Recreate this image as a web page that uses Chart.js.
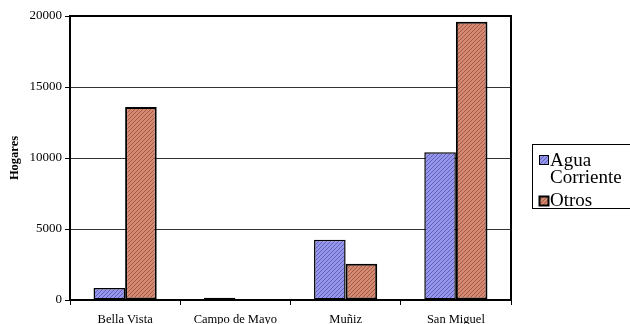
<!DOCTYPE html>
<html>
<head>
<meta charset="utf-8">
<script src="https://cdn.jsdelivr.net/npm/chart.js@4/dist/chart.umd.min.js"></script>
<style>
  html, body { margin: 0; padding: 0; background: #fff; }
  #wrap { width: 630px; height: 324px; overflow: hidden; }
</style>
</head>
<body>
<div id="wrap"><canvas id="c" width="630" height="324"></canvas></div>
<script>
// Hogares por localidad según tipo de abastecimiento de agua
const categories = ['Bella Vista', 'Campo de Mayo', 'Muñiz', 'San Miguel'];
const aguaCorriente = [850, 150, 4250, 10400];
const otros = [13600, 40, 2550, 19600];
const seriesNames = ['Agua Corriente', 'Otros'];
const legendLines = [['Agua', 'Corriente'], ['Otros']];
const yTicks = [0, 5000, 10000, 15000, 20000];

const SERIF = '"Liberation Serif", "Times New Roman", serif';

// Diagonal hatch fill used for the bars
function hatch(base, line) {
  const t = document.createElement('canvas');
  t.width = 4; t.height = 4;
  const g = t.getContext('2d');
  g.fillStyle = base;
  g.fillRect(0, 0, 4, 4);
  g.fillStyle = line;
  for (let i = 0; i < 4; i++) g.fillRect(i, 3 - i, 1, 1);
  return g.createPattern(t, 'repeat');
}
const bluePat = hatch('#9696ec', '#6060b8');
const orangePat = hatch('#d48a72', '#a65a44');

// Top/right frame of the plot area plus the boxed legend
const framePlugin = {
  id: 'frame',
  afterDraw(chart) {
    const { ctx, chartArea: a } = chart;
    ctx.save();
    ctx.strokeStyle = '#000';
    ctx.lineWidth = 2;
    ctx.beginPath();
    ctx.moveTo(a.left, a.top);
    ctx.lineTo(a.right, a.top);
    ctx.lineTo(a.right, a.bottom);
    ctx.stroke();

    // legend box
    ctx.lineWidth = 1;
    ctx.strokeRect(532.5, 144.5, 110, 64);
    const fills = [bluePat, orangePat];
    const rows = [155, 196];
    const baselines = [[166, 183], [206]];
    ctx.font = '19px ' + SERIF;
    legendLines.forEach((lines, i) => {
      ctx.fillStyle = fills[i];
      ctx.fillRect(539, rows[i], 10, 10);
      ctx.strokeStyle = '#000';
      ctx.lineWidth = i === 1 ? 2 : 1;
      ctx.strokeRect(539.5, rows[i] + 0.5, 9, 9);
      ctx.fillStyle = '#000';
      lines.forEach((txt, j) => {
        ctx.fillText(txt, 550, baselines[i][j]);
      });
    });
    ctx.restore();
  }
};

new Chart(document.getElementById('c'), {
  type: 'bar',
  data: {
    labels: categories,
    datasets: [
      { label: seriesNames[0], data: aguaCorriente, backgroundColor: bluePat,
        borderColor: '#000', borderWidth: 1.5, borderSkipped: false },
      { label: seriesNames[1], data: otros, backgroundColor: orangePat,
        borderColor: '#000', borderWidth: 2, borderSkipped: false }
    ]
  },
  options: {
    responsive: false,
    animation: false,
    devicePixelRatio: 1,
    layout: { padding: { top: 16, right: 119, left: 0, bottom: 0 } },
    datasets: { bar: { categoryPercentage: 0.573, barPercentage: 1 } },
    plugins: { legend: { display: false }, tooltip: { enabled: false } },
    scales: {
      x: {
        offset: true,
        grid: { drawOnChartArea: false, drawTicks: true, tickLength: 5, color: '#000', offset: true },
        border: { color: '#000', width: 2 },
        ticks: { color: '#000', font: { family: SERIF, size: 12.5 }, padding: 7, maxRotation: 0 },
        afterFit(s) { s.height = 24; }
      },
      y: {
        min: 0, max: 20000,
        afterBuildTicks(s) { s.ticks = yTicks.map(v => ({ value: v })); },
        grid: { color: '#333333', lineWidth: 1, tickLength: 5, tickColor: '#000' },
        border: { color: '#000', width: 2 },
        ticks: { color: '#000', font: { family: SERIF, size: 13 }, padding: 3,
                 callback: v => String(v) },
        title: { display: true, text: 'Hogares', color: '#000',
                 font: { family: SERIF, size: 12.5, weight: 'bold' }, padding: { top: 7, bottom: 0 } },
        afterFit(s) { s.width = 70; }
      }
    }
  },
  plugins: [framePlugin]
});
</script>
</body>
</html>
